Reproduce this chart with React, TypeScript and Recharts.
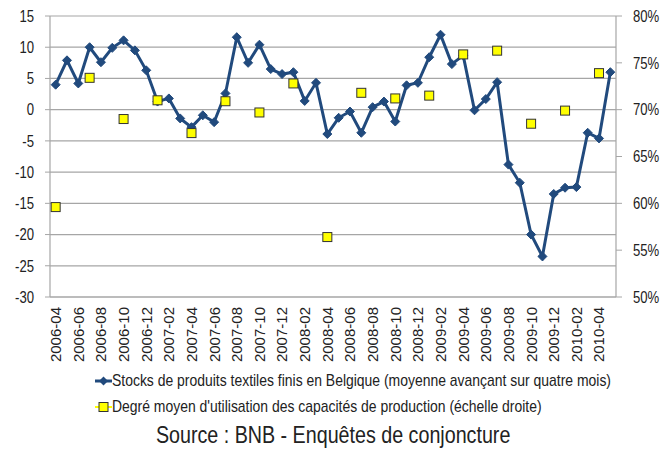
import { ComposedChart, Line, XAxis, YAxis, CartesianGrid, Legend } from "recharts";

const FONT = "'Liberation Sans', Arial, sans-serif";
const NARROW = 0.82; // pas de police "narrow" installée : on comprime Liberation Sans
const BLUE = "#214A7D";
const YELLOW = "#FFFF00";
const GRID = "#A6A6A6";
const TEXT = "#222";

const months = [
  "2006-04", "2006-05", "2006-06", "2006-07", "2006-08", "2006-09", "2006-10", "2006-11", "2006-12",
  "2007-01", "2007-02", "2007-03", "2007-04", "2007-05", "2007-06", "2007-07", "2007-08", "2007-09",
  "2007-10", "2007-11", "2007-12", "2008-01", "2008-02", "2008-03", "2008-04", "2008-05", "2008-06",
  "2008-07", "2008-08", "2008-09", "2008-10", "2008-11", "2008-12", "2009-01", "2009-02", "2009-03",
  "2009-04", "2009-05", "2009-06", "2009-07", "2009-08", "2009-09", "2009-10", "2009-11", "2009-12",
  "2010-01", "2010-02", "2010-03", "2010-04", "2010-05",
];

// stocks, moyenne mobile 4 mois (axe gauche)
const stocks = [
  4.0, 7.9, 4.2, 10.0, 7.6, 9.9, 11.1, 9.5, 6.3,
  1.3, 1.8, -1.4, -2.8, -0.9, -2.0, 2.6, 11.6, 7.5,
  10.4, 6.5, 5.7, 6.0, 1.4, 4.3, -3.9, -1.3, -0.3,
  -3.7, 0.4, 1.3, -1.9, 3.9, 4.3, 8.4, 12.0, 7.3,
  8.7, -0.1, 1.7, 4.4, -8.8, -11.7, -20.0, -23.5, -13.5,
  -12.5, -12.4, -3.7, -4.6, 6.0,
];

// taux d'utilisation trimestriel (axe droit, %)
const utilMonths = [
  "2006-04", "2006-07", "2006-10", "2007-01", "2007-04", "2007-07", "2007-10", "2008-01", "2008-04",
  "2008-07", "2008-10", "2009-01", "2009-04", "2009-07", "2009-10", "2010-01", "2010-04",
];
const utilValues = [
  59.6, 73.4, 69.0, 71.0, 67.5, 70.9, 69.7, 72.8, 56.4,
  71.8, 71.2, 71.5, 75.9, 76.3, 68.5, 69.9, 73.9,
];

const leftTicks = [-30, -25, -20, -15, -10, -5, 0, 5, 10, 15];
const rightTicks = [50, 55, 60, 65, 70, 75, 80];

const rows = months.map((m, i) => {
  const k = utilMonths.indexOf(m);
  return { month: m, stocks: stocks[i], util: k >= 0 ? utilValues[k] : null };
});

function Diamond(props: any) {
  const { cx, cy, index } = props;
  if (cx == null || cy == null) return <g key={`d${index}`} />;
  const r = 4.5;
  return (
    <polygon
      key={`d${index}`}
      points={`${cx},${cy - r} ${cx + r},${cy} ${cx},${cy + r} ${cx - r},${cy}`}
      fill={BLUE}
      stroke={BLUE}
    />
  );
}

function Square(props: any) {
  const { cx, cy, index } = props;
  if (cx == null || cy == null) return <g key={`s${index}`} />;
  return (
    <rect key={`s${index}`} x={cx - 4.5} y={cy - 4.5} width={9} height={9} fill={YELLOW} stroke="#333" strokeWidth={1} />
  );
}

function MonthTick(props: any) {
  const { x, y, payload } = props;
  return (
    <g transform={`translate(${x},${y})`}>
      <text transform="rotate(-90)" textAnchor="end" dy="0.36em" fontSize={15} fontFamily={FONT} fill={TEXT}>
        {payload.value}
      </text>
    </g>
  );
}

function ValueTick(props: any) {
  const { x, y, payload, textAnchor, suffix } = props;
  return (
    <g transform={`translate(${x},${y}) scale(${NARROW},1)`}>
      <text textAnchor={textAnchor} dy="0.36em" fontSize={16} fontFamily={FONT} fill={TEXT}>
        {payload.value}
        {suffix}
      </text>
    </g>
  );
}

const narrowSpan = { display: "inline-block", transform: `scaleX(${NARROW})`, transformOrigin: "left center" } as const;

function LegendBox() {
  return (
    <div style={{ height: 86, width: 663, fontFamily: FONT, color: TEXT, position: "relative" }}>
      <div style={{ position: "absolute", left: 95, top: 5, display: "flex", alignItems: "center", fontSize: 17, whiteSpace: "nowrap" }}>
        <svg width={17} height={12}>
          <line x1={0} y1={6} x2={17} y2={6} stroke={BLUE} strokeWidth={3} />
          <polygon points="8.5,1.5 13,6 8.5,10.5 4,6" fill={BLUE} />
        </svg>
        <span style={narrowSpan}>Stocks de produits textiles finis en Belgique (moyenne avançant sur quatre mois)</span>
      </div>
      <div style={{ position: "absolute", left: 95, top: 31, display: "flex", alignItems: "center", fontSize: 17, whiteSpace: "nowrap" }}>
        <svg width={17} height={12}>
          <line x1={0} y1={6} x2={17} y2={6} stroke={YELLOW} strokeWidth={2} />
          <rect x={4} y={1.5} width={9} height={9} fill={YELLOW} stroke="#333" strokeWidth={1} />
        </svg>
        <span style={narrowSpan}>Degré moyen d'utilisation des capacités de production (échelle droite)</span>
      </div>
      <div style={{ position: "absolute", left: 0, width: 666, top: 55, textAlign: "center", fontSize: 24, whiteSpace: "nowrap" }}>
        <span style={{ ...narrowSpan, transformOrigin: "center center" }}>Source : BNB - Enquêtes de conjoncture</span>
      </div>
    </div>
  );
}

export default function App() {
  return (
    <div style={{ position: "absolute", left: 0, top: 0, width: 663, height: 452, background: "#fff" }}>
      <ComposedChart width={663} height={452} data={rows} margin={{ top: 16, right: 0, bottom: 0, left: 0 }}>
        <CartesianGrid yAxisId="left" vertical={false} stroke={GRID} strokeWidth={1.2} />
        <XAxis
          dataKey="month"
          interval={1}
          height={69}
          padding={{ left: 5.66, right: 5.66 }}
          tick={<MonthTick />}
          tickLine={false}
          tickSize={0}
          tickMargin={10}
          axisLine={{ stroke: GRID, strokeWidth: 1.2 }}
        />
        <YAxis
          yAxisId="left"
          domain={[-30, 15]}
          ticks={leftTicks}
          width={50}
          tickSize={5}
          tickMargin={11}
          axisLine={{ stroke: GRID, strokeWidth: 1.2 }}
          tickLine={{ stroke: GRID }}
          tick={<ValueTick suffix="" />}
        />
        <YAxis
          yAxisId="right"
          orientation="right"
          domain={[50, 80]}
          ticks={rightTicks}
          width={47}
          tickSize={6}
          tickMargin={11}
          axisLine={{ stroke: GRID, strokeWidth: 1.2 }}
          tickLine={{ stroke: GRID }}
          tick={<ValueTick suffix="%" />}
        />
        <Legend verticalAlign="bottom" content={<LegendBox />} wrapperStyle={{ left: 0, width: 663 }} />
        <Line
          yAxisId="left"
          dataKey="stocks"
          stroke={BLUE}
          strokeWidth={3}
          dot={(p: any) => <Diamond key={`d${p.index}`} {...p} />}
          isAnimationActive={false}
        />
        <Line
          yAxisId="right"
          dataKey="util"
          stroke="none"
          dot={(p: any) => <Square key={`s${p.index}`} {...p} />}
          activeDot={false}
          isAnimationActive={false}
        />
      </ComposedChart>
    </div>
  );
}
